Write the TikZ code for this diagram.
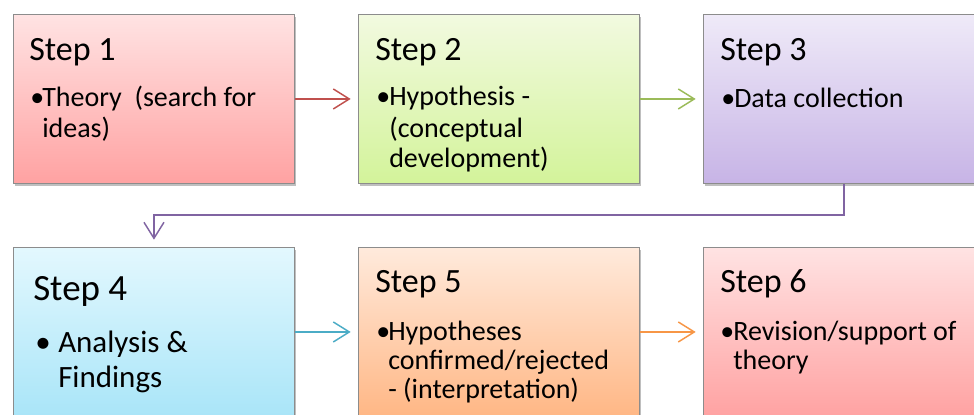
\documentclass[tikz,border=0pt]{standalone}
\usepackage{fontspec}
\setmainfont{Carlito}
\usetikzlibrary{arrows.meta,shadows,calc}

\definecolor{boxline}{HTML}{8C8C8C}
\definecolor{redtop}{HTML}{FFE3E3}\definecolor{redbot}{HTML}{FFA2A2}
\definecolor{greentop}{HTML}{F2FAE0}\definecolor{greenbot}{HTML}{D3F39A}
\definecolor{purptop}{HTML}{EFEAF8}\definecolor{purpbot}{HTML}{C7B4E6}
\definecolor{cyantop}{HTML}{E3F8FE}\definecolor{cyanbot}{HTML}{A9E5F8}
\definecolor{orgtop}{HTML}{FFEADC}\definecolor{orgbot}{HTML}{FFB785}
\definecolor{redarrow}{HTML}{C0504D}
\definecolor{greenarrow}{HTML}{9BBB59}
\definecolor{purparrow}{HTML}{8064A2}
\definecolor{cyanarrow}{HTML}{4BACC6}
\definecolor{orgarrow}{HTML}{F79646}

\begin{document}
\begin{tikzpicture}[x=0.75pt,y=-0.75pt,
  stepbox/.style 2 args={draw=boxline, line width=0.7pt, anchor=north west,
    minimum width=210.75pt, minimum height=126.75pt, inner sep=0pt,
    top color=#1, bottom color=#2,
    drop shadow={shadow xshift=1pt, shadow yshift=-1.8pt, fill=black, opacity=0.25}},
  steptitle/.style={anchor=base west, inner sep=0pt, font=\fontsize{25.5pt}{30pt}\selectfont},
  bigtitle/.style={anchor=base west, inner sep=0pt, font=\fontsize{27.75pt}{32pt}\selectfont},
  bodyline/.style={anchor=base west, inner sep=0pt, font=\fontsize{21pt}{25pt}\selectfont},
  bigline/.style={anchor=base west, inner sep=0pt, font=\fontsize{23.25pt}{28pt}\selectfont},
  flow/.style={line width=1.1pt, -{Straight Barb[length=12pt, width=15pt, line width=1.1pt]},
    shorten >=5.5pt}]
\useasboundingbox (0,0) rectangle (974,414);
\clip (0,0) rectangle (974,414);
\fill[white] (0,0) rectangle (974,414);

% boxes
\node[stepbox={redtop}{redbot}]       (s1) at (13,14)  {};
\node[stepbox={greentop}{greenbot}]   (s2) at (358,14) {};
\node[stepbox={purptop}{purpbot}]     (s3) at (703,14) {};
\node[stepbox={cyantop}{cyanbot}]     (s4) at (13,247) {};
\node[stepbox={orgtop}{orgbot}]       (s5) at (358,247) {};
\node[stepbox={redtop}{redbot}]       (s6) at (703,247) {};

% step 1
\node[steptitle] (t1) at ($(s1.north west)+(16,46)$) {Step 1};
\node[bodyline]  (b1) at ($(s1.north west)+(17,92)$) {•};
\node[bodyline]  (l1a) at ($(s1.north west)+(29,92)$) {Theory\ \ (search for};
\node[bodyline]  (l1b) at ($(s1.north west)+(29,123)$) {ideas)};

% step 2
\node[steptitle] (t2) at ($(s2.north west)+(17,46)$) {Step 2};
\node[bodyline]  (b2) at ($(s2.north west)+(18,91)$) {•};
\node[bodyline]  (l2a) at ($(s2.north west)+(31,91)$) {Hypothesis -};
\node[bodyline]  (l2b) at ($(s2.north west)+(31,123)$) {(conceptual};
\node[bodyline]  (l2c) at ($(s2.north west)+(31,153)$) {development)};

% step 3
\node[steptitle] (t3) at ($(s3.north west)+(17,46)$) {Step 3};
\node[bodyline]  (b3) at ($(s3.north west)+(18,93)$) {•};
\node[bodyline]  (l3a) at ($(s3.north west)+(31,93)$) {Data collection};

% step 4
\node[bigtitle] (t4) at ($(s4.north west)+(20,53)$) {Step 4};
\node[bigline]  (b4) at ($(s4.north west)+(22,105)$) {•};
\node[bigline]  (l4a) at ($(s4.north west)+(45,105)$) {Analysis \&};
\node[bigline]  (l4b) at ($(s4.north west)+(45,140)$) {Findings};

% step 5
\node[steptitle] (t5) at ($(s5.north west)+(17,45)$) {Step 5};
\node[bodyline]  (b5) at ($(s5.north west)+(18,93)$) {•};
\node[bodyline]  (l5a) at ($(s5.north west)+(30,93)$) {Hypotheses};
\node[bodyline]  (l5b) at ($(s5.north west)+(30,122)$) {confirmed/rejected};
\node[bodyline]  (l5c) at ($(s5.north west)+(30,151)$) {- (interpretation)};

% step 6
\node[steptitle] (t6) at ($(s6.north west)+(17,45)$) {Step 6};
\node[bodyline]  (b6) at ($(s6.north west)+(17,93)$) {•};
\node[bodyline]  (l6a) at ($(s6.north west)+(30,93)$) {Revision/support of};
\node[bodyline]  (l6b) at ($(s6.north west)+(30,122)$) {theory};

% connectors
\draw[flow, redarrow]   (s1) -- (s2);
\draw[flow, greenarrow] (s2) -- (s3);
\draw[flow, purparrow]  (s3.south) -- ++(0,31) -| (s4.north);
\draw[flow, cyanarrow]  (s4) -- (s5);
\draw[flow, orgarrow]   (s5) -- (s6);
\end{tikzpicture}
\end{document}
